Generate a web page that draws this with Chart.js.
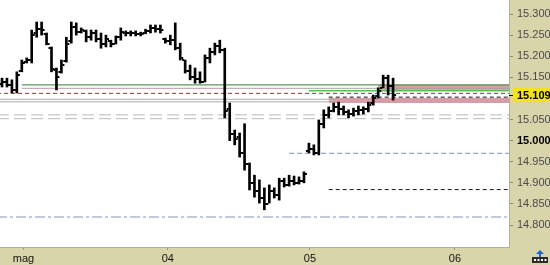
<!DOCTYPE html>
<html>
<head>
<meta charset="utf-8">
<script src="https://cdn.jsdelivr.net/npm/chart.js@4.4.1/dist/chart.umd.min.js"></script>
<style>
  html, body { margin: 0; padding: 0; background: #fff; }
  #wrap { width: 550px; height: 265px; }
</style>
</head>
<body>
<div id="wrap"><canvas id="chart" width="550" height="265"></canvas></div>
<script>
// bar values (price), one entry per bar
const highs = [15.148,15.148,15.144,15.163,15.191,15.196,15.262,15.281,15.281,15.255,
  15.222,15.172,15.191,15.245,15.281,15.279,15.267,15.262,15.262,15.262,
  15.255,15.250,15.238,15.248,15.267,15.260,15.260,15.260,15.257,15.264,
  15.274,15.274,15.274,15.243,15.250,15.279,15.231,15.191,15.179,15.172,
  15.163,15.203,15.219,15.231,15.238,15.219,15.089,15.025,15.018,15.040,
  14.947,14.918,14.907,14.888,14.895,14.888,14.911,14.911,14.918,14.916,
  14.914,14.926,14.994,14.990,15.049,15.073,15.080,15.089,15.091,15.082,
  15.073,15.077,15.082,15.080,15.091,15.108,15.125,15.155,15.155,15.148];
const lows = [15.127,15.127,15.113,15.113,15.163,15.184,15.184,15.245,15.250,15.227,
  15.163,15.120,15.160,15.186,15.231,15.250,15.255,15.234,15.238,15.234,
  15.219,15.222,15.222,15.229,15.238,15.248,15.248,15.248,15.248,15.253,
  15.255,15.257,15.255,15.231,15.227,15.215,15.191,15.160,15.144,15.136,
  15.136,15.139,15.184,15.203,15.208,15.054,15.000,14.990,14.961,14.930,
  14.883,14.866,14.852,14.836,14.852,14.864,14.859,14.890,14.892,14.895,
  14.897,14.900,14.971,14.966,14.966,15.030,15.054,15.068,15.061,15.061,
  15.054,15.058,15.061,15.063,15.068,15.084,15.101,15.125,15.108,15.096];
const opens = [15.135,15.140,15.132,15.120,15.165,15.186,15.190,15.255,15.265,15.252,
  15.220,15.168,15.162,15.188,15.235,15.270,15.258,15.260,15.245,15.255,
  15.240,15.230,15.236,15.230,15.245,15.255,15.255,15.255,15.253,15.255,
  15.260,15.268,15.265,15.240,15.235,15.238,15.220,15.190,15.165,15.150,
  15.145,15.140,15.195,15.210,15.225,15.215,15.075,15.015,15.008,14.970,
  14.945,14.900,14.880,14.865,14.850,14.880,14.870,14.905,14.895,14.905,
  14.900,14.905,14.975,14.980,14.970,15.040,15.060,15.070,15.080,15.075,
  15.068,15.062,15.070,15.072,15.075,15.088,15.105,15.125,15.148,15.130];
const closes = [15.140,15.132,15.120,15.155,15.185,15.190,15.250,15.265,15.262,15.230,
  15.170,15.150,15.180,15.230,15.270,15.258,15.262,15.245,15.255,15.240,
  15.230,15.240,15.228,15.245,15.258,15.255,15.255,15.253,15.252,15.260,
  15.268,15.265,15.262,15.235,15.238,15.220,15.195,15.165,15.150,15.145,
  15.140,15.195,15.210,15.225,15.215,15.070,15.015,15.005,14.970,14.945,
  14.900,14.880,14.865,14.850,14.880,14.870,14.905,14.895,14.905,14.900,
  14.905,14.920,14.980,14.970,15.040,15.060,15.070,15.080,15.075,15.068,
  15.062,15.070,15.072,15.075,15.085,15.100,15.118,15.148,15.130,15.109];

// time axis: day labels and the bar index where each day begins
const dayLabels = ['mag', '04', '05', '06'];
const dayTicks = [4.34, 33.5, 62.2, 91.5];

// price axis
const yTicks = [15.30, 15.25, 15.20, 15.15, 15.05, 15.00, 14.95, 14.90, 14.85, 14.80];
const lastPrice = 15.109;

// horizontal levels: price and the bar index they start from
const levelValues = [15.132, 15.124, 15.118, 15.112, 15.103, 15.098, 15.092, 15.061, 15.052, 14.970, 14.884, 14.819];
const levelFrom   = [4, 4, 62, -1, 66, -1, -1, -1, -1, 58, 66, -1];

// shaded zones: low, high and start bar index
const bandLows  = [15.120, 15.089];
const bandHighs = [15.132, 15.101];
const bandFrom  = [76, 66];

// ---- styles ----
const levelStyles = [
  { color: '#2f7a32', dash: [], width: 1 },
  { color: '#aa9ea6', dash: [], width: 1 },
  { color: '#5fbf55', dash: [], width: 1.5 },
  { color: '#a32a2a', dash: [4, 3], width: 1 },
  { color: '#111111', dash: [4, 3], width: 1 },
  { color: '#ababab', dash: [], width: 1 },
  { color: '#ababab', dash: [], width: 1 },
  { color: '#b9b9b9', dash: [12, 5], width: 1 },
  { color: '#b9b9b9', dash: [12, 5], width: 1 },
  { color: '#7d8bc9', dash: [5, 3], width: 1 },
  { color: '#1a1a1a', dash: [4, 3], width: 1 },
  { color: '#8794b8', dash: [10, 3, 3, 3], width: 1 }
];
const khaki = '#d8d5aa';
const xMin = -0.404, xMax = 102.42;
const yMin = 14.7479, yMax = 15.3332;
const isZero = c => !!(c && c.tick && Math.abs(c.tick.value - 15) < 1e-6);

const bars = highs.map((h, i) => ({ x: i, y: [lows[i], h] }));

const datasets = [{
  type: 'bar',
  data: bars,
  backgroundColor: '#000',
  borderWidth: 0,
  barThickness: 2,
  order: 0
}];
levelValues.forEach((v, i) => {
  const st = levelStyles[i];
  datasets.push({
    type: 'line',
    data: [{ x: levelFrom[i], y: v }, { x: xMax + 1, y: v }],
    borderColor: st.color,
    borderDash: st.dash,
    borderWidth: st.width,
    pointRadius: 0,
    fill: false,
    order: 2
  });
});

const frame = {
  id: 'frame',
  beforeDraw(chart) {
    const { ctx, chartArea: a } = chart;
    ctx.save();
    ctx.fillStyle = khaki;
    ctx.fillRect(0, 0, chart.width, chart.height);
    ctx.fillStyle = '#fff';
    ctx.fillRect(a.left, a.top, a.right - a.left, a.bottom - a.top);
    ctx.restore();
  },
  beforeDatasetsDraw(chart) {
    const { ctx, chartArea: a, scales: { x, y } } = chart;
    ctx.save();
    ctx.fillStyle = '#daa1a5';
    bandLows.forEach((lo, i) => {
      const x0 = x.getPixelForValue(bandFrom[i]);
      const y0 = y.getPixelForValue(bandHighs[i]);
      const y1 = y.getPixelForValue(lo);
      ctx.fillRect(x0, y0, a.right - x0, y1 - y0);
    });
    ctx.restore();
  },
  afterDatasetsDraw(chart) {
    // open / close ticks
    const { ctx, scales: { x, y } } = chart;
    ctx.save();
    ctx.fillStyle = '#000';
    opens.forEach((o, i) => {
      const cx = x.getPixelForValue(i);
      const yo = Math.round(y.getPixelForValue(o));
      const yc = Math.round(y.getPixelForValue(closes[i]));
      ctx.fillRect(cx - 3, yo - 1, 2, 2);
      ctx.fillRect(cx + 1, yc - 1, 2, 2);
    });
    ctx.restore();
  },
  afterDraw(chart) {
    const { ctx, chartArea: a, scales: { y } } = chart;
    ctx.save();
    ctx.strokeStyle = '#b2b09a';
    ctx.lineWidth = 1;
    ctx.beginPath();
    ctx.moveTo(a.right + 0.5, 0);
    ctx.lineTo(a.right + 0.5, a.bottom + 0.5);
    ctx.lineTo(0, a.bottom + 0.5);
    ctx.stroke();
    // last price marker
    const py = Math.round(y.getPixelForValue(lastPrice));
    ctx.fillStyle = '#f4e31c';
    ctx.fillRect(a.right + 4, py - 7, chart.width - a.right - 4, 14);
    ctx.fillStyle = '#000';
    ctx.fillRect(a.right, py, 4, 1);
    ctx.font = 'bold 11px "Liberation Sans", Arial, sans-serif';
    ctx.textBaseline = 'middle';
    ctx.fillText(lastPrice.toFixed(3), a.right + 8, py + 0.5);
    // small toolbar icon bottom-right
    ctx.fillStyle = '#1f62d6';
    ctx.beginPath();
    ctx.moveTo(540, 250); ctx.lineTo(536, 254); ctx.lineTo(544, 254); ctx.closePath(); ctx.fill();
    ctx.fillRect(539, 254, 2, 3);
    ctx.fillStyle = '#2b2b2b';
    ctx.fillRect(532, 257, 16, 6);
    ctx.fillStyle = '#fff';
    for (let k = 0; k < 4; k++) ctx.fillRect(534 + k * 3.5, 259, 2, 2);
    ctx.restore();
  }
};

new Chart(document.getElementById('chart'), {
  data: { datasets },
  plugins: [frame],
  options: {
    responsive: false,
    animation: false,
    events: [],
    layout: { padding: 0 },
    plugins: { legend: { display: false }, tooltip: { enabled: false } },
    scales: {
      x: {
        type: 'linear',
        offset: false,
        min: xMin,
        max: xMax,
        afterFit(s) { s.height = 18; s.paddingLeft = 0; s.paddingRight = 0; },
        afterBuildTicks(s) { s.ticks = dayTicks.map(v => ({ value: v })); },
        grid: { drawOnChartArea: false, offset: false, tickLength: 3, color: '#9a9a8a' },
        border: { display: false },
        ticks: {
          autoSkip: false,
          maxRotation: 0,
          padding: 2,
          color: '#111',
          font: { family: '"Liberation Sans", Arial, sans-serif', size: 11 },
          callback: (v, i) => dayLabels[i]
        }
      },
      y: {
        position: 'right',
        min: yMin,
        max: yMax,
        afterFit(s) { s.width = 41; s.paddingTop = 0; s.paddingBottom = 0; },
        afterBuildTicks(s) { s.ticks = yTicks.map(v => ({ value: v })); },
        grid: { drawOnChartArea: false, tickLength: 4, color: '#8a8a7a' },
        border: { display: false },
        ticks: {
          padding: 4,
          color: c => (isZero(c) ? '#000' : '#4a4a4a'),
          font: c => ({
            family: '"Liberation Sans", Arial, sans-serif',
            size: 11,
            weight: isZero(c) ? 'bold' : 'normal'
          }),
          callback: v => v.toFixed(3)
        }
      }
    }
  }
});
</script>
</body>
</html>
